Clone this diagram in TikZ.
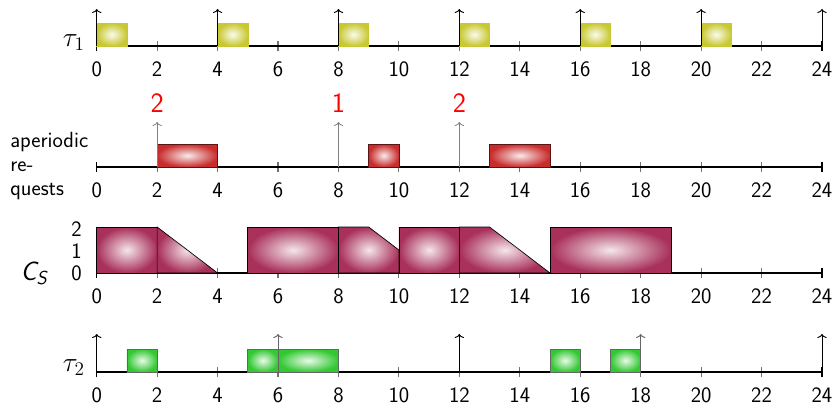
\documentclass[tikz,border=0pt]{standalone}
\usetikzlibrary{arrows.meta}
\definecolor{yelc}{RGB}{200,200,50}
\definecolor{redc}{RGB}{200,45,45}
\definecolor{csc}{RGB}{168,48,90}
\definecolor{grnc}{RGB}{50,200,50}
\tikzset{
  axisline/.style={line width=1.2pt, black},
  tickmark/.style={line width=0.8pt, black!55},
  endtick/.style={line width=0.8pt, black},
  lbl/.style={font=\sffamily\fontsize{16.5}{19}\selectfont, inner sep=0pt, anchor=base},
  bigred/.style={font=\sffamily\fontsize{21}{24}\selectfont, inner sep=0pt, anchor=base, text=red},
  release/.style={-{To[length=3pt,width=7pt]}, line width=0.7pt, black},
  release2/.style={release, black!60},
  request/.style={-{To[length=3pt,width=7pt]}, line width=0.6pt, black!50},
  ybox/.style={shading=radial, outer color=yelc, inner color=yelc!8!white, draw=yelc, line width=0.4pt},
  rbox/.style={shading=radial, outer color=redc, inner color=redc!10!white, draw=redc!45!black, line width=0.6pt},
  gbox/.style={shading=radial, outer color=grnc, inner color=grnc!10!white, draw=black!60, line width=0.6pt},
  csbox/.style={shading=radial, outer color=csc, inner color=csc!12!white, draw=black, line width=0.5pt},
}
\newcommand\drawtimeaxis[1]{%
  \foreach \t in {2,4,...,22} \draw[tickmark] (\t,-5) -- (\t,5);
  \draw[endtick] (0,-5) -- (0,5);
  \draw[endtick] (24,-5) -- (24,5);
  \draw[axisline] (0,0) -- (24,0);
  \foreach \t in {0,2,...,24} \node[lbl] (#1-\t) at (\t,-30.5) {\t};
}
\begin{document}
\begin{tikzpicture}[x=0.75pt,y=-0.75pt]
\useasboundingbox (0,0) rectangle (835,405);

% ---- tau1 row
\node[inner sep=0pt, anchor=base east, font=\fontsize{21}{24}\selectfont] (tau1) at (85,46) {$\tau_1$};
\begin{scope}[shift={(96.7,46)}, x=22.665pt, y=0.75pt]
  \drawtimeaxis{ta}
  \foreach \s in {0,4,...,20} \draw[ybox] (\s,0) rectangle ({\s+1},23);
  \foreach \s in {0,4,...,24} \draw[release] (\s,0) -- (\s,37);
\end{scope}

% ---- aperiodic row
\node[lbl, anchor=base west] (ap1) at (10,147) {aperiodic};
\node[lbl, anchor=base west] (ap2) at (10,171) {re-};
\node[lbl, anchor=base west] (ap3) at (10,195) {quests};
\begin{scope}[shift={(96.7,167)}, x=22.665pt, y=0.75pt]
  \drawtimeaxis{ap}
  \draw[rbox] (2,0) rectangle (4,23);
  \draw[rbox] (9,0) rectangle (10,23);
  \draw[rbox] (13,0) rectangle (15,23);
  \draw[request] (2,0) -- (2,45);
  \draw[request] (8,0) -- (8,45);
  \draw[request] (12,0) -- (12,45);
  \node[bigred] (n2a) at (2,55) {2};
  \node[bigred] (n1) at (8,55) {1};
  \node[bigred] (n2b) at (12,55) {2};
\end{scope}

% ---- C_S row
\node[inner sep=0pt, anchor=base east, font=\sffamily\itshape\fontsize{20}{24}\selectfont] (cslbl) at (47,280) {C\raisebox{-0.35ex}{\fontsize{14}{17}\selectfont S}};
\node[lbl, anchor=base east] (lv2) at (82,236) {2};
\node[lbl, anchor=base east] (lv1) at (82,258) {1};
\node[lbl, anchor=base east] (lv0) at (82,280) {0};
\begin{scope}[shift={(96.7,273)}, x=22.665pt, y=0.75pt]
  \drawtimeaxis{cs}
  \draw[csbox] (0,0) -- (0,46) -- (2,46) -- (2,0) -- cycle;
  \draw[csbox] (2,0) -- (2,46) -- (4,0) -- cycle;
  \draw[csbox] (5,0) -- (5,46) -- (8,46) -- (8,0) -- cycle;
  \draw[csbox] (8,0) -- (8,46) -- (9,46) -- (10,23) -- (10,0) -- cycle;
  \draw[csbox] (10,0) -- (10,46) -- (12,46) -- (12,0) -- cycle;
  \draw[csbox] (12,0) -- (12,46) -- (13,46) -- (15,0) -- cycle;
  \draw[csbox] (15,0) -- (15,46) -- (19,46) -- (19,0) -- cycle;
\end{scope}

% ---- tau2 row
\node[inner sep=0pt, anchor=base east, font=\fontsize{21}{24}\selectfont] (tau2) at (85,371) {$\tau_2$};
\begin{scope}[shift={(96.7,372)}, x=22.665pt, y=0.75pt]
  \drawtimeaxis{tb}
  \draw[release] (0,0) -- (0,38);
  \draw[release] (12,0) -- (12,38);
  \draw[release] (24,0) -- (24,38);
  \draw[gbox] (1,0) rectangle (2,23);
  \draw[gbox] (5,0) rectangle (6,23);
  \draw[gbox] (6,0) rectangle (8,23);
  \draw[gbox] (15,0) rectangle (16,23);
  \draw[gbox] (17,0) rectangle (18,23);
  \draw[release2] (6,0) -- (6,38);
  \draw[release2] (18,0) -- (18,38);
\end{scope}
\end{tikzpicture}
\end{document}
